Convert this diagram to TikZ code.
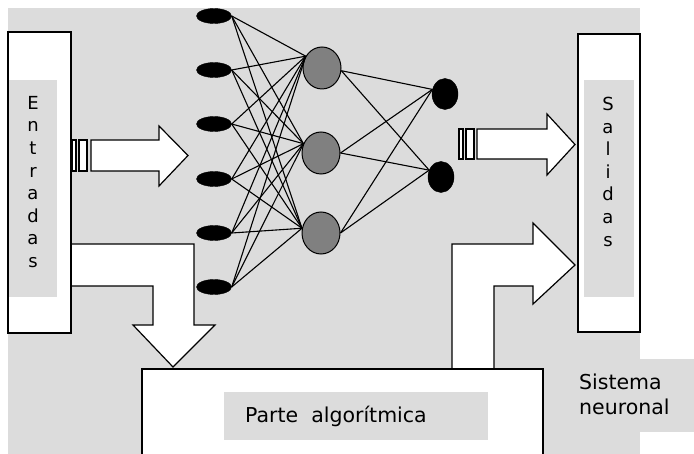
\documentclass[tikz,border=0pt]{standalone}
\usepackage{fontspec}
\setmainfont{DejaVu Sans}
\usetikzlibrary{shapes.geometric}
\definecolor{texbg}{RGB}{220,220,220}
\definecolor{hidgray}{RGB}{128,128,128}
\tikzset{
  inp/.style={ellipse,fill=black,draw=black,minimum width=35pt,minimum height=15pt,inner sep=0pt},
  hid/.style={ellipse,fill=hidgray,draw=black,line width=1pt,minimum width=38pt,minimum height=42pt,inner sep=0pt},
  outn/.style={ellipse,fill=black,draw=black,minimum width=26pt,minimum height=31pt,inner sep=0pt},
  wire/.style={line width=1.1pt},
  blockarrow/.style={fill=white,draw=black,line width=1.2pt,line join=miter},
  boxw/.style={fill=white,draw=black,line width=1.3pt},
  vword/.style={align=center,inner sep=0pt,anchor=north,font=\fontsize{18}{22.6}\selectfont},
  lbl/.style={inner sep=0pt,font=\fontsize{20.5}{25}\selectfont}
}
\begin{document}
\begin{tikzpicture}[x=1pt,y=-1pt]
\useasboundingbox (0,0) rectangle (694,454);
% textured background
\fill[texbg] (8,8) rectangle (640,454);
\fill[texbg] (560,359) rectangle (694,432);

% L-shaped arrow from Entradas down to algorithmic part
\path[blockarrow] (71,244) -- (194,244) -- (194,325) -- (215,325) -- (173,367)
  -- (133,325) -- (153,325) -- (153,286) -- (71,286) -- cycle;
% L-shaped arrow from algorithmic part up to Salidas
\path[blockarrow] (452,369) -- (452,244) -- (533,244) -- (533,223) -- (575,265)
  -- (533,304) -- (533,286) -- (494,286) -- (494,369);

% Entradas box
\node[boxw,minimum width=63pt,minimum height=301pt,inner sep=0pt] (entbox) at (39.5,182.5) {};
\fill[texbg] (9,80) rectangle (57,297);
\node[vword] (ent) at (33,96) {E\\n\\t\\r\\a\\d\\a\\s};

% Salidas box
\node[boxw,minimum width=62pt,minimum height=298pt,inner sep=0pt] (salbox) at (609,183) {};
\fill[texbg] (584,80) rectangle (634,297);
\node[vword] (sal) at (608,97) {S\\a\\l\\i\\d\\a\\s};

% input block arrow
\path[blockarrow] (72,140) rectangle (76,171);
\path[blockarrow] (79,140) rectangle (87,171);
\path[blockarrow] (91,140) -- (159,140) -- (159,126) -- (188,155.5) -- (159,186)
  -- (159,171) -- (91,171) -- cycle;

% output block arrow
\path[blockarrow] (459,129) rectangle (463,159);
\path[blockarrow] (466,129) rectangle (474,159);
\path[blockarrow] (477,129) -- (547,129) -- (547,114) -- (575,144.5) -- (547,175)
  -- (547,159) -- (477,159) -- cycle;

% algorithmic part box
\path[boxw] (142,456) -- (142,369) -- (543,369) -- (543,456);
\fill[texbg] (224,392) rectangle (488,440);
\node[lbl,anchor=base west] (alg) at (245,423) {Parte\ \ algorítmica};

% Sistema neuronal label
\node[lbl,anchor=north west,align=left] (sis) at (579,374) {Sistema\\neuronal};

% network nodes
\node[inp] (i1) at (214,16) {};
\node[inp] (i2) at (214,70) {};
\node[inp] (i3) at (214,124) {};
\node[inp] (i4) at (214,179) {};
\node[inp] (i5) at (214,233) {};
\node[inp] (i6) at (214,287) {};
\node[hid] (h1) at (322,68) {};
\node[hid] (h2) at (321,153) {};
\node[hid] (h3) at (321,233) {};
\node[outn] (o1) at (445,94) {};
\node[outn] (o2) at (441,177) {};

\coordinate (h1in) at (h1.144);
\coordinate (h2in) at (h2.152);
\coordinate (h3in) at (h3.166);
\coordinate (h1out) at (h1.-8);
\coordinate (h2out) at (h2.east);
\coordinate (h3out) at (h3.east);
\coordinate (o1in) at (o1.160);
\coordinate (o2in) at (o2.150);

\foreach \i in {i1,i2,i3,i4,i5,i6}{
  \foreach \h in {h1in,h2in,h3in}{
    \draw[wire] (\i.east) -- (\h);
  }
}
\foreach \h in {h1out,h2out,h3out}{
  \foreach \o in {o1in,o2in}{
    \draw[wire] (\h) -- (\o);
  }
}
\end{tikzpicture}
\end{document}
